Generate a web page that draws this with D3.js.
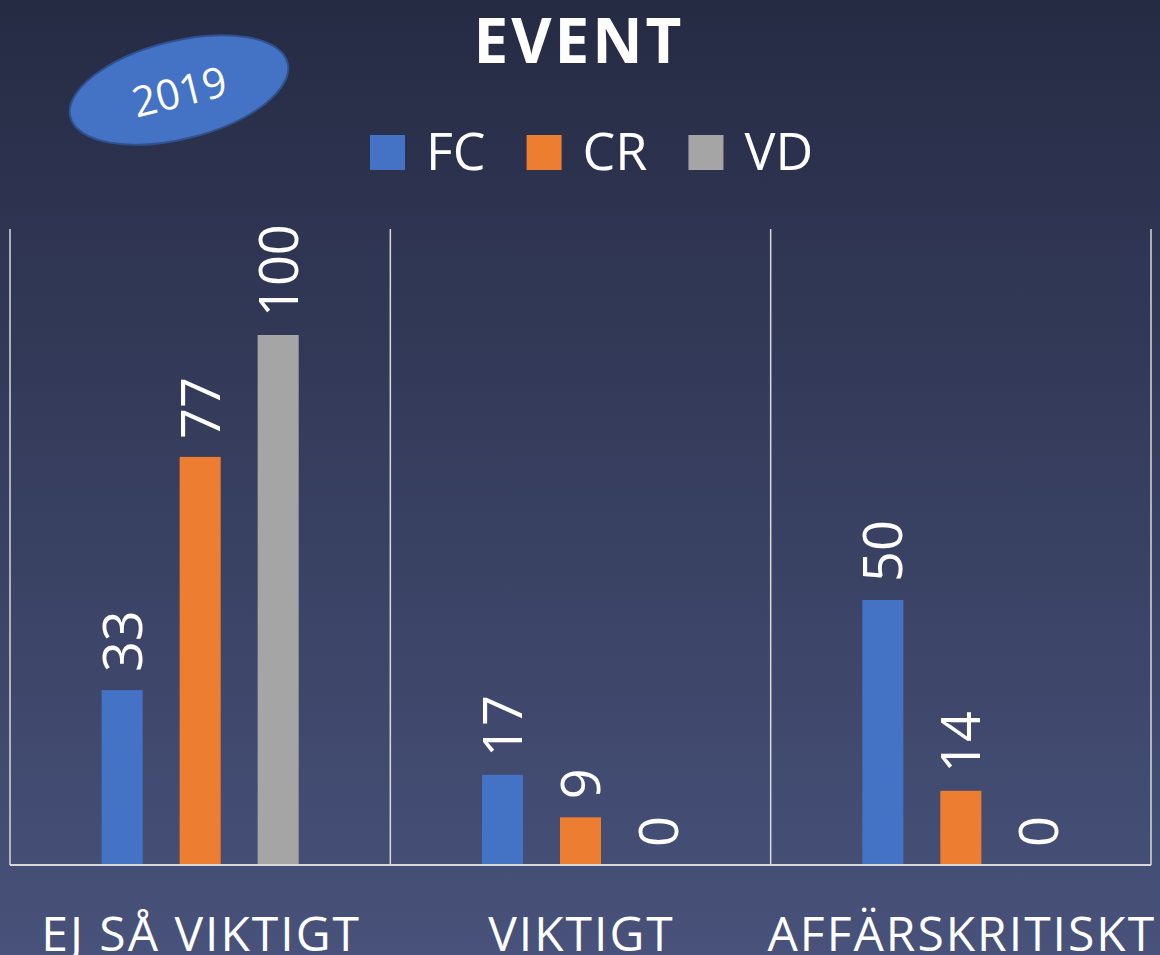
<!DOCTYPE html>
<html>
<head>
  <meta charset="UTF-8">
  <title>Event 2019</title>
  <style>
    body { margin: 0; padding: 0; background: #262b43; }
    svg { display: block; }
  </style>
</head>
<body>
  <svg></svg>
  <script src="https://d3js.org/d3.v7.min.js"></script>
  <script>
    // chart data
    const categories = ["EJ SÅ VIKTIGT", "VIKTIGT", "AFFÄRSKRITISKT"];
    const seriesNames = ["FC", "CR", "VD"];
    const fcValues = [33, 17, 50];
    const crValues = [77, 9, 14];
    const vdValues = [100, 0, 0];
    const title = "EVENT";
    const badgeText = "2019";

    const colors = { FC: "#4472c4", CR: "#ed7d31", VD: "#a5a5a5" };
    const seriesValues = { FC: fcValues, CR: crValues, VD: vdValues };

    let width = 1160, height = 955;
    let svg = d3.select("svg").attr("width", width).attr("height", height);

    // background gradient
    let defs = svg.append("defs");
    let grad = defs.append("linearGradient").attr("id", "bg")
        .attr("x1", 0).attr("y1", 0).attr("x2", 0).attr("y2", 1);
    grad.append("stop").attr("offset", "0%").attr("stop-color", "#262b44");
    grad.append("stop").attr("offset", "100%").attr("stop-color", "#48527a");
    svg.append("rect").attr("width", width).attr("height", height).attr("fill", "url(#bg)");

    // title
    svg.append("text")
        .attr("x", 579).attr("y", 63)
        .attr("text-anchor", "middle")
        .attr("font-family", "'Open Sans', sans-serif")
        .attr("font-weight", "bold")
        .attr("font-size", 62)
        .attr("letter-spacing", 3)
        .attr("fill", "#fff")
        .text(title);

    // 2019 badge
    let badge = svg.append("g").attr("transform", "translate(179,90) rotate(-14)");
    badge.append("ellipse")
        .attr("rx", 112).attr("ry", 49)
        .attr("fill", "#4472c4")
        .attr("stroke", "#2f528f")
        .attr("stroke-width", 2);
    badge.append("text")
        .attr("y", 2)
        .attr("dy", "0.35em")
        .attr("text-anchor", "middle")
        .attr("font-family", "'Open Sans', sans-serif")
        .attr("font-size", 42)
        .attr("fill", "#fff")
        .text(badgeText);

    // legend
    let legend = svg.append("g").attr("class", "legend");
    let lx = 370;
    seriesNames.forEach(s => {
      legend.append("rect")
          .attr("x", lx).attr("y", 135)
          .attr("width", 35).attr("height", 35)
          .attr("fill", colors[s]);
      let t = legend.append("text")
          .attr("x", lx + 56).attr("y", 170)
          .attr("font-family", "'Open Sans', sans-serif")
          .attr("font-size", 52)
          .attr("fill", "#fff")
          .text(s);
      lx = lx + 56 + t.node().getComputedTextLength() + 41;
    });

    // scales
    let x0 = d3.scaleBand().domain(categories).range([10, 1151]).padding(0);
    let x1 = d3.scaleBand().domain(seriesNames).range([0, x0.bandwidth()])
        .paddingInner(0.474).paddingOuter(1.175);
    let y = d3.scaleLinear().domain([0, 120]).range([865, 229]);

    // vertical separators
    let seps = categories.map(c => x0(c)).concat([x0.range()[1]]);
    svg.append("g").selectAll("line")
        .data(seps)
        .enter()
        .append("line")
        .attr("x1", d => d).attr("x2", d => d)
        .attr("y1", y(120)).attr("y2", y(0))
        .attr("stroke", "#d9d9d9")
        .attr("stroke-width", 1.5);

    // bars
    let rows = [];
    categories.forEach((c, i) => {
      seriesNames.forEach(s => rows.push({ cat: c, series: s, value: seriesValues[s][i] }));
    });

    svg.append("g").selectAll("rect")
        .data(rows)
        .enter()
        .append("rect")
        .attr("x", d => x0(d.cat) + x1(d.series))
        .attr("y", d => y(d.value))
        .attr("width", x1.bandwidth())
        .attr("height", d => y(0) - y(d.value))
        .attr("fill", d => colors[d.series]);

    // value labels (rotated)
    svg.append("g").selectAll("text")
        .data(rows)
        .enter()
        .append("text")
        .attr("transform", d => {
          let cx = x0(d.cat) + x1(d.series) + x1.bandwidth() / 2;
          return "translate(" + cx + "," + (y(d.value) - 18) + ") rotate(-90)";
        })
        .attr("dy", "0.36em")
        .attr("text-anchor", "start")
        .attr("font-family", "'Open Sans', sans-serif")
        .attr("font-size", 54)
        .attr("fill", "#fff")
        .text(d => d.value);

    // baseline
    svg.append("line")
        .attr("x1", 10).attr("x2", 1151)
        .attr("y1", y(0)).attr("y2", y(0))
        .attr("stroke", "#d9d9d9")
        .attr("stroke-width", 2);

    // category labels
    svg.append("g").selectAll("text")
        .data(categories)
        .enter()
        .append("text")
        .attr("x", d => x0(d) + x0.bandwidth() / 2 + 1)
        .attr("y", 951)
        .attr("text-anchor", "middle")
        .attr("font-family", "'Open Sans', sans-serif")
        .attr("font-size", 48)
        .attr("letter-spacing", 2)
        .attr("fill", "#fff")
        .text(d => d);
  </script>
</body>
</html>
